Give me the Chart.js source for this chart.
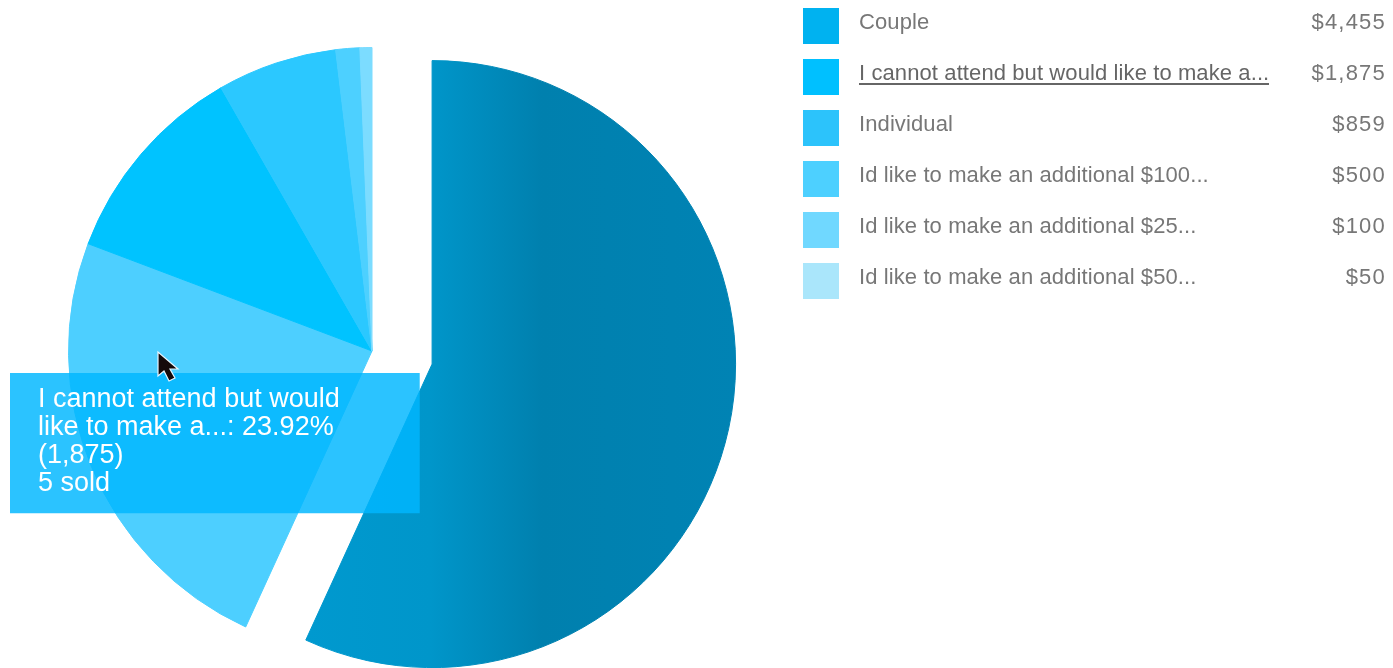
<!DOCTYPE html>
<html>
<head>
<meta charset="utf-8">
<title>Ticket sales</title>
<script src="https://cdn.jsdelivr.net/npm/chart.js@4"></script>
<style>
    html, body { margin: 0; padding: 0; background: #fff; }
    body { width: 1393px; height: 668px; position: relative; overflow: hidden; }
    #salesChart { position: absolute; left: 0; top: 0; }
    #legend { position: absolute; left: 803px; top: 8px; width: 583px; font-family: "Liberation Sans", sans-serif; font-size: 22px; color: #777; }
    .row { position: relative; height: 51px; }
    .swatch { position: absolute; left: 0; top: 0; width: 36px; height: 36px; }
    .name { position: absolute; left: 56px; top: 4px; line-height: 20px; letter-spacing: 0.1px; white-space: nowrap; }
    .name.active { border-bottom: 2px solid #666; color: #666; }
    .amount { position: absolute; right: 0; top: 4px; line-height: 20px; letter-spacing: 1.2px; }
    #cursor { position: absolute; left: 156px; top: 350px; }
</style>
</head>
<body>
<canvas id="salesChart" width="1393" height="668"></canvas>
<div id="legend"></div>
<svg id="cursor" width="26" height="34" viewBox="0 0 26 34">
    <path d="M2 2 L2 26 L8 21 L13 31 L19 28 L14 19 L22 19 Z" fill="#140a0a" stroke="#e8f6ff" stroke-width="1.2"/>
</svg>

<script>
const categories = [
    'Couple',
    'I cannot attend but would like to make a...',
    'Individual',
    'Id like to make an additional $100...',
    'Id like to make an additional $25...',
    'Id like to make an additional $50...'
];
const amounts = [4455, 1875, 859, 500, 100, 50];
const sliceColors = ['#0087b8', '#4dcfff', '#00c3ff', '#2bc8ff', '#4dd0ff', '#7cdcff'];
const swatchColors = ['#00b2f0', '#00c0ff', '#2cc3fb', '#4dd0ff', '#70d8ff', '#aae6fb'];

// tooltip content for the highlighted ticket type
const activeIndex = 1;
const activeLabelLines = ['I cannot attend but would', 'like to make a...'];
const activeSold = 5;

const pieRadius = 303.5;
const explodeDistance = 61.5;

const total = amounts.reduce((a, b) => a + b, 0);

// Build the legend rows
const legend = document.getElementById('legend');
categories.forEach((name, i) => {
    const row = document.createElement('div');
    row.className = 'row';
    row.innerHTML = `
        <div class="swatch" style="background:${swatchColors[i]}"></div>
        <span class="name${i === activeIndex ? ' active' : ''}">${name}</span>
        <span class="amount">$${amounts[i].toLocaleString('en-US')}</span>
    `;
    legend.appendChild(row);
});

// Arc's own offset also grows the radius, so pull the big slice out by hand
const explodeFirstSlice = {
    id: 'explodeFirstSlice',
    afterDatasetsUpdate(chart) {
        const arc = chart.getDatasetMeta(0).data[0];
        const mid = (arc.startAngle + arc.endAngle) / 2;
        arc.x += Math.cos(mid) * explodeDistance;
        arc.y += Math.sin(mid) * explodeDistance;
    }
};

// Keeps the tooltip box at a fixed spot over the pie
Chart.Tooltip.positioners.pinned = function() {
    return { x: 10, y: 373, xAlign: 'left', yAlign: 'top' };
};

function sliceFill(context) {
    if (context.dataIndex !== 0) {
        return sliceColors[context.dataIndex];
    }
    const gradient = context.chart.ctx.createLinearGradient(305, 0, 736, 0);
    gradient.addColorStop(0, '#0099cf');
    gradient.addColorStop(0.29, '#0096ca');
    gradient.addColorStop(0.55, '#0080ae');
    gradient.addColorStop(1, '#0083b4');
    return gradient;
}

const salesChart = new Chart(document.getElementById('salesChart'), {
    type: 'pie',
    data: {
        labels: categories,
        datasets: [{
            data: amounts,
            backgroundColor: sliceFill,
            borderColor: sliceFill,   // same as fill, hides the seams between slices
            borderWidth: 1,
            radius: pieRadius,
            clip: false
        }]
    },
    options: {
        responsive: false,
        animation: false,
        events: [],
        layout: {
            padding: { left: 0, right: 649, top: 34, bottom: 0 }
        },
        plugins: {
            legend: { display: false },
            tooltip: {
                enabled: true,
                animation: false,
                position: 'pinned',
                displayColors: false,
                backgroundColor: 'rgba(0, 183, 255, 0.83)',
                bodyColor: '#ffffff',
                bodyFont: { family: '"Liberation Sans", sans-serif', size: 27, lineHeight: 1.03 },
                bodySpacing: 0,
                padding: { left: 28, right: 80, top: 13, bottom: 16 },
                cornerRadius: 0,
                caretSize: 0,
                caretPadding: 0,
                callbacks: {
                    title: () => [],
                    label: (item) => {
                        const pct = (item.raw / total * 100).toFixed(2);
                        return [
                            activeLabelLines[0],
                            `${activeLabelLines[1]}: ${pct}%`,
                            `(${item.raw.toLocaleString('en-US')})`,
                            `${activeSold} sold`
                        ];
                    }
                }
            }
        }
    },
    plugins: [explodeFirstSlice]
});

salesChart.tooltip.setActiveElements([{ datasetIndex: 0, index: activeIndex }], { x: 158, y: 352 });
salesChart.update();
</script>
</body>
</html>
